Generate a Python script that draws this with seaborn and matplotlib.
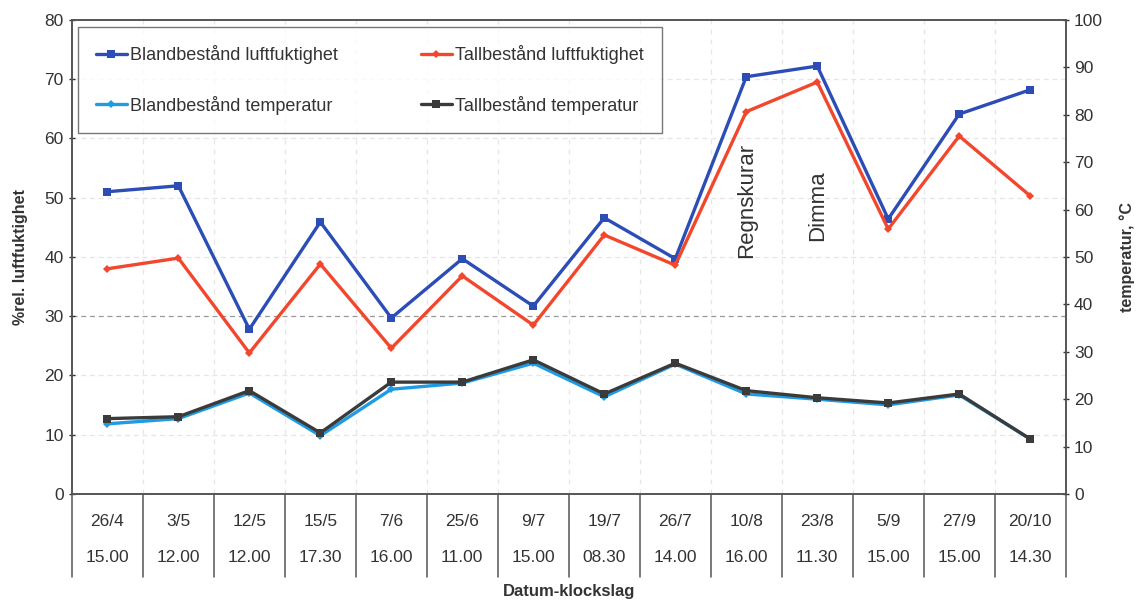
import numpy as np
import pandas as pd
import seaborn as sns
import matplotlib.pyplot as plt
from matplotlib.lines import Line2D

# Data
datum = ['26/4', '3/5', '12/5', '15/5', '7/6', '25/6', '9/7',
         '19/7', '26/7', '10/8', '23/8', '5/9', '27/9', '20/10']
klockslag = ['15.00', '12.00', '12.00', '17.30', '16.00', '11.00', '15.00',
             '08.30', '14.00', '16.00', '11.30', '15.00', '15.00', '14.30']

bland_fukt = [51.0, 52.0, 27.8, 45.9, 29.7, 39.7, 31.7,
              46.6, 39.7, 70.4, 72.2, 46.4, 64.1, 68.2]
tall_fukt = [38.0, 39.8, 23.8, 38.8, 24.6, 36.8, 28.5,
             43.7, 38.6, 64.5, 69.5, 44.7, 60.4, 50.3]
# temperatures on the right axis (0-100)
bland_temp = [14.8, 15.9, 21.3, 12.3, 22.1, 23.4, 27.6,
              20.5, 27.4, 21.1, 20.0, 18.8, 20.9, 11.6]
tall_temp = [15.9, 16.3, 21.8, 12.9, 23.6, 23.6, 28.3,
             21.1, 27.6, 21.8, 20.3, 19.2, 21.1, 11.6]

notes = {9: 'Regnskurar', 10: 'Dimma'}

sns.set_style('white')
plt.rcParams['font.family'] = ['Liberation Sans', 'DejaVu Sans']

fig = plt.figure(figsize=(11.41, 6.01), dpi=100)
ax = fig.add_axes([0.063, 0.178, 0.871, 0.789])
ax2 = ax.twinx()

idx = np.arange(len(datum))
df = pd.DataFrame({'idx': idx, 'bf': bland_fukt, 'tf': tall_fukt,
                   'bt': bland_temp, 'tt': tall_temp})

c_blue = '#2b4db5'
c_red = '#f2472c'
c_lblue = '#1e9be3'
c_dark = '#3b3b3b'

sns.lineplot(data=df, x='idx', y='bf', ax=ax, color=c_blue, lw=2.4,
             marker='s', markersize=6, markeredgewidth=0)
sns.lineplot(data=df, x='idx', y='tf', ax=ax, color=c_red, lw=2.4,
             marker='D', markersize=4, markeredgewidth=0)
sns.lineplot(data=df, x='idx', y='bt', ax=ax2, color=c_lblue, lw=2.4,
             marker='D', markersize=4, markeredgewidth=0)
sns.lineplot(data=df, x='idx', y='tt', ax=ax2, color=c_dark, lw=2.4,
             marker='s', markersize=6, markeredgewidth=0)

ax.set_xlim(-0.5, len(datum) - 0.5)
ax.set_ylim(0, 80)
ax2.set_ylim(0, 100)
ax.set_yticks(range(0, 81, 10))
ax2.set_yticks(range(0, 101, 10))
ax.set_xticks([])
ax.set_xlabel('')
ax.set_ylabel('%rel. luftfuktighet', fontsize=11.5, fontweight='bold', color='#333333', labelpad=12)
ax2.set_ylabel('temperatur, °C', fontsize=11.5, fontweight='bold', color='#333333', labelpad=12)

for a in (ax, ax2):
    a.tick_params(axis='y', labelsize=12.5, colors='#333333', length=5, direction='inout', width=1)
    for s in a.spines.values():
        s.set_color('#555555')
        s.set_linewidth(1.2)

# grid lines
for y in range(10, 80, 10):
    ax.axhline(y, color='#999999' if y == 30 else '#e6e6e6', lw=0.9, ls=(0, (4, 3)), zorder=0)
for k in range(1, len(datum)):
    ax.axvline(k - 0.5, color='#e6e6e6', lw=0.9, ls=(0, (4, 4)), zorder=0)

# category table below the axis
tr = ax.get_xaxis_transform()
for k in range(len(datum) + 1):
    ax.add_line(Line2D([k - 0.5, k - 0.5], [0, -0.175], transform=tr,
                       color='#555555', lw=1.1, clip_on=False))
for k in range(len(datum)):
    ax.text(k, -0.059, datum[k], transform=tr, ha='center', va='center',
            fontsize=12.5, color='#333333')
    ax.text(k, -0.133, klockslag[k], transform=tr, ha='center', va='center',
            fontsize=12.5, color='#333333')
ax.text(0.5, -0.205, 'Datum-klockslag', transform=ax.transAxes, ha='center',
        va='center', fontsize=12, fontweight='bold', color='#333333')

# notes
note_font = ['Liberation Sans Narrow', 'Liberation Sans', 'DejaVu Sans']
ax.text(9, 49.6, notes[9], rotation=90, ha='center', va='center', fontsize=16,
        family=note_font, color='#333333')
ax.text(10, 48.6, notes[10], rotation=90, ha='center', va='center', fontsize=16,
        family=note_font, color='#333333')

handles = [
    Line2D([], [], color=c_blue, lw=2.4, marker='s', markersize=6, markeredgewidth=0),
    Line2D([], [], color=c_lblue, lw=2.4, marker='D', markersize=4, markeredgewidth=0),
    Line2D([], [], color=c_red, lw=2.4, marker='D', markersize=4, markeredgewidth=0),
    Line2D([], [], color=c_dark, lw=2.4, marker='s', markersize=6, markeredgewidth=0),
]
labels = ['Blandbestånd luftfuktighet', 'Blandbestånd temperatur',
          'Tallbestånd luftfuktighet', 'Tallbestånd temperatur']
leg = ax2.legend(handles, labels, ncol=2, loc='upper left', bbox_to_anchor=(0.006, 0.985),
                 fontsize=13, frameon=True, fancybox=False, edgecolor='#555555',
                 handlelength=1.7, handletextpad=0.2, columnspacing=4.6,
                 labelspacing=1.75, borderpad=1.0, borderaxespad=0)
leg.get_frame().set_linewidth(1.0)
for t in leg.get_texts():
    t.set_color('#333333')

fig.savefig('out.png', dpi=100)
